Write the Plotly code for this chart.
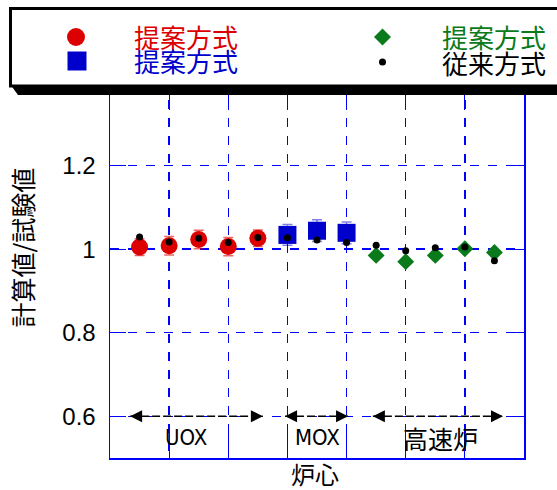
import plotly.graph_objects as go

# ---------------- data ----------------
uox_x = [1, 2, 3, 4, 5]
uox_proposed = [1.005, 1.008, 1.023, 1.006, 1.026]
uox_err = [0.020, 0.022, 0.022, 0.022, 0.020]

mox_x = [6, 7, 8]
mox_proposed = [1.034, 1.044, 1.039]
mox_err = [0.025, 0.026, 0.026]

fr_x = [9, 10, 11, 12, 13]
fr_proposed = [0.985, 0.970, 0.985, 1.001, 0.992]

conv_x = uox_x + mox_x + fr_x
conventional = [1.029, 1.017, 1.026, 1.016, 1.028,
                1.027, 1.022, 1.016,
                1.009, 0.996, 1.003, 1.005, 0.972]

group_labels = ["UOX", "MOX", "高速炉"]
group_start = [0.68, 5.92, 8.89]
group_end = [5.17, 8.05, 13.29]
group_center = [2.57, 7.0, 11.19]
group_arrow_y = 0.6
group_label_y = 0.548

legend_labels = ["提案方式", "提案方式", "提案方式", "従来方式"]
y_title = "計算値/試験値"
x_title = "炉心"

# ---------------- style ----------------
W, H = 557, 490
ML, MR, MT, MB = 110, 33, 82, 32
PW, PH = W - ML - MR, H - MT - MB

RED = "#dd0000"
BLUE = "#0000cc"
GREEN = "#0a7a1a"
BLACK = "#000000"
GRID = "#0000ff"
CJK = "Noto Sans CJK JP"
LAT = "Liberation Sans"
NARROW = "Liberation Sans Narrow, DejaVu Sans Condensed, Liberation Sans"


def px2x(px):
    return (px - ML) / PW


def py2y(py):
    return (H - MB - py) / PH


fig = go.Figure()

fig.add_trace(go.Scatter(
    x=uox_x, y=uox_proposed, mode="markers", name=legend_labels[0],
    marker=dict(symbol="circle", size=17, color=RED),
    error_y=dict(type="data", array=uox_err, color="rgba(221,0,0,0.6)", thickness=1.5, width=5),
))
fig.add_trace(go.Scatter(
    x=mox_x, y=mox_proposed, mode="markers", name=legend_labels[1],
    marker=dict(symbol="square", size=18, color=BLUE),
    error_y=dict(type="data", array=mox_err, color="rgba(0,0,204,0.5)", thickness=1.5, width=5),
))
fig.add_trace(go.Scatter(
    x=fr_x, y=fr_proposed, mode="markers", name=legend_labels[2],
    marker=dict(symbol="diamond", size=13, color=GREEN),
))
fig.add_trace(go.Scatter(
    x=conv_x, y=conventional, mode="markers", name=legend_labels[3],
    marker=dict(symbol="circle", size=7, color=BLACK),
))

# group arrows
for s, e in zip(group_start, group_end):
    fig.add_trace(go.Scatter(
        x=[s, e], y=[group_arrow_y, group_arrow_y], mode="lines+markers",
        line=dict(color=BLACK, width=1.5, dash="8px,3px"),
        marker=dict(symbol=["arrow-left", "arrow-right"], size=12, color=BLACK),
        showlegend=False, hoverinfo="skip",
    ))

annotations = []
for lab, cx in zip(group_labels, group_center):
    annotations.append(dict(
        x=cx, y=group_label_y, xref="x", yref="y", text=lab, showarrow=False,
        font=dict(family=NARROW if lab.isascii() else CJK,
                  size=22 if lab.isascii() else 25, color=BLACK),
        xanchor="center", yanchor="middle",
    ))

annotations.append(dict(
    x=px2x(21.5), y=py2y(248), xref="paper", yref="paper", text=y_title,
    textangle=-90, showarrow=False, font=dict(family=CJK, size=25, color=BLACK),
    xanchor="center", yanchor="middle",
))
annotations.append(dict(
    x=px2x(315), y=py2y(473), xref="paper", yref="paper", text=x_title,
    showarrow=False, font=dict(family=CJK, size=24, color=BLACK),
    xanchor="center", yanchor="middle",
))

# legend texts
leg_text_pos = [(132, 37, RED), (132, 61, BLUE), (440, 37, GREEN), (440, 62, BLACK)]
for i, (lx, ly, col) in enumerate(leg_text_pos):
    annotations.append(dict(
        x=px2x(lx), y=py2y(ly), xref="paper", yref="paper", text=legend_labels[i],
        showarrow=False, font=dict(family=CJK, size=26, color=col),
        xanchor="left", yanchor="middle",
    ))

shapes = [
    # shadow
    dict(type="path", xref="paper", yref="paper", layer="above",
         path="M {} {} L {} {} L {} {} L {} {} Z".format(
             px2x(10), py2y(84), px2x(18), py2y(95), px2x(620), py2y(95), px2x(620), py2y(84)),
         fillcolor=BLACK, line=dict(width=0)),
    # box
    dict(type="rect", xref="paper", yref="paper", layer="above",
         x0=px2x(10.5), x1=px2x(620), y0=py2y(86), y1=py2y(8.5),
         fillcolor="white", line=dict(color=BLACK, width=3)),
    # legend markers
    dict(type="circle", xref="paper", yref="paper", layer="above",
         xsizemode="pixel", ysizemode="pixel", xanchor=px2x(76), yanchor=py2y(37),
         x0=-9, x1=9, y0=-9, y1=9, fillcolor=RED, line=dict(width=0)),
    dict(type="rect", xref="paper", yref="paper", layer="above",
         xsizemode="pixel", ysizemode="pixel", xanchor=px2x(77), yanchor=py2y(61),
         x0=-9.5, x1=9.5, y0=-9.5, y1=9.5, fillcolor=BLUE, line=dict(width=0)),
    dict(type="path", xref="paper", yref="paper", layer="above",
         xsizemode="pixel", ysizemode="pixel", xanchor=px2x(382.5), yanchor=py2y(37),
         path="M 0 8.5 L 8.5 0 L 0 -8.5 L -8.5 0 Z", fillcolor=GREEN, line=dict(width=0)),
    dict(type="circle", xref="paper", yref="paper", layer="above",
         xsizemode="pixel", ysizemode="pixel", xanchor=px2x(382.5), yanchor=py2y(62),
         x0=-3.5, x1=3.5, y0=-3.5, y1=3.5, fillcolor=BLACK, line=dict(width=0)),
]

fig.update_layout(
    width=W, height=H,
    margin=dict(l=ML, r=MR, t=MT, b=MB, pad=0),
    paper_bgcolor="white", plot_bgcolor="white",
    showlegend=False,
    annotations=annotations, shapes=shapes,
    font=dict(family=LAT, color=BLACK),
)
fig.update_xaxes(
    range=[0, 14], tick0=0, dtick=2, showticklabels=False,
    showgrid=True, gridcolor=GRID, gridwidth=1.4, griddash="dash",
    showline=True, linecolor=GRID, linewidth=1.5, mirror="ticks",
    ticks="inside", ticklen=28, tickcolor=GRID, tickwidth=1.2,
    zeroline=False,
)
fig.update_yaxes(
    range=[0.5, 1.4], tick0=0, dtick=0.2,
    tickfont=dict(family=LAT, size=24, color=BLACK), ticklabelstandoff=8,
    showgrid=True, gridcolor=GRID, gridwidth=1.4, griddash="dash",
    showline=True, linecolor=GRID, linewidth=1.5, mirror="ticks",
    ticks="inside", ticklen=16, tickcolor=GRID, tickwidth=1.2,
    zeroline=False,
)

fig.write_html("out.html",
               config={"displayModeBar": False, "staticPlot": True},
               post_script="document.body.style.margin='0px';document.body.style.overflow='hidden';")
